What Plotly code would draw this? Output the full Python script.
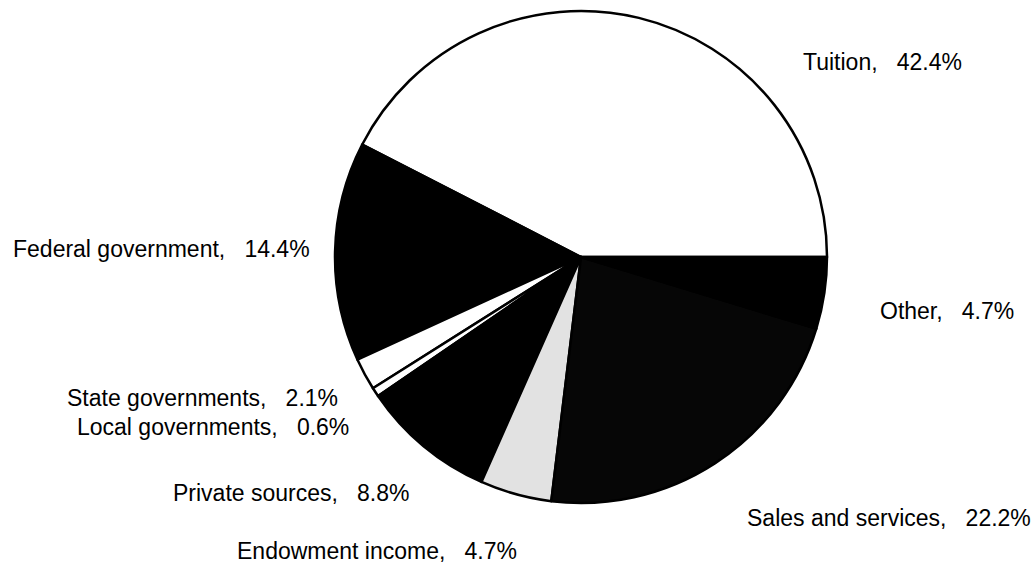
import plotly.graph_objects as go

# Data
labels = ["Tuition", "Federal government", "State governments", "Local governments",
          "Private sources", "Endowment income", "Sales and services", "Other"]
values = [42.4, 14.4, 2.1, 0.6, 8.8, 4.7, 22.2, 4.7]

# Styles
colors = ["#ffffff", "#000000", "#ffffff", "#ffffff",
          "#000000", "#e2e2e2", "#060606", "#000000"]

W, H = 1034, 565
cx, cy, r = 581, 257, 246

# label placement (pixels): x, y, anchor
label_pos = {
    "Tuition": (801, 62, "left"),
    "Federal government": (11, 249, "left"),
    "Other": (878, 311, "left"),
    "State governments": (340, 398, "right"),
    "Local governments": (351, 427, "right"),
    "Private sources": (412, 493, "right"),
    "Sales and services": (1033, 518, "right"),
    "Endowment income": (519, 551, "right"),
}

sp = "\u00a0" * 3

# Plotly's counterclockwise pies end the first slice at `rotation`;
# the first slice (Tuition) must start at 3 o'clock.
rotation = 90 - values[0] / sum(values) * 360

fig = go.Figure(go.Pie(
    labels=labels,
    values=values,
    sort=False,
    direction="counterclockwise",
    rotation=rotation,
    textinfo="none",
    hoverinfo="label+percent",
    marker=dict(colors=colors, line=dict(color="#000000", width=2.5)),
    domain=dict(x=[(cx - r) / W, (cx + r) / W], y=[1 - (cy + r) / H, 1 - (cy - r) / H]),
    showlegend=False,
))

annotations = []
for lab, val in zip(labels, values):
    px, py, anc = label_pos[lab]
    annotations.append(dict(
        x=px / W, y=1 - py / H, xref="paper", yref="paper",
        text=f"{lab},{sp}{val}%", showarrow=False,
        xanchor=anc, yanchor="middle",
        font=dict(family="Liberation Sans, Arial, sans-serif", size=23, color="#000000"),
    ))

fig.update_layout(
    width=W, height=H,
    margin=dict(l=0, r=0, t=0, b=0),
    paper_bgcolor="white", plot_bgcolor="white",
    annotations=annotations,
)

fig.write_html("out.html",
               config={"displayModeBar": False},
               post_script="document.body.style.margin='0';document.body.style.overflow='hidden';")
